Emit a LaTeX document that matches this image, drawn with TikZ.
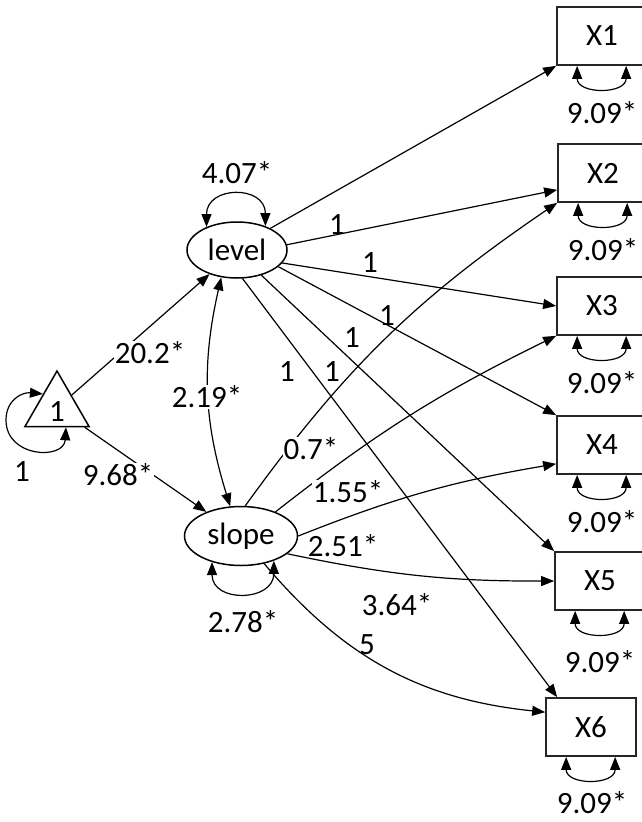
\documentclass[tikz,border=0pt]{standalone}
\usepackage{fontspec}
\setmainfont{Carlito}
\usetikzlibrary{arrows.meta,shapes.geometric}
\begin{document}
\begin{tikzpicture}[x=1pt,y=-1pt,
  every node/.style={font=\fontsize{31}{37}\selectfont},
  lat/.style={draw,ellipse,line width=1.5pt,inner sep=0pt,fill=white},
  obs/.style={draw=black!85,rectangle,line width=1.7pt,minimum width=90pt,minimum height=58pt,inner sep=0pt,fill=white},
  arr/.style={line width=1.2pt,-{Triangle[length=13pt,width=10pt]}},
  cov/.style={line width=1.2pt,{Triangle[length=13pt,width=10pt]}-{Triangle[length=13pt,width=10pt]}},
  lbl/.style={fill=white,inner sep=1pt}]
\useasboundingbox (0,0) rectangle (642,822);

% nodes
\node[draw,regular polygon,regular polygon sides=3,minimum size=74pt,inner sep=0pt,line width=1.5pt] (tri) at (57,408) {};
\node (trilbl) at (57,412) {1};
\node[lat,minimum width=100pt,minimum height=56pt] (lev) at (237,250) {level};
\node[lat,minimum width=113pt,minimum height=59pt] (slo) at (241,536) {slope};
\node[obs] (X1) at (602,36) {X1};
\node[obs] (X2) at (603,173) {X2};
\node[obs] (X3) at (602,306) {X3};
\node[obs] (X4) at (602,445) {X4};
\node[obs] (X5) at (600,581) {X5};
\node[obs] (X6) at (591,727) {X6};

% triangle self loop
\draw[cov] (tri.-65) .. controls (64,460) and (6,458) .. (6,420) .. controls (6,400) and (22,392) .. (tri.135);

% intercept paths
\draw[arr] (tri) -- (lev);
\draw[arr] (tri) -- (slo);

% covariance level-slope
\draw[cov] (lev.-120) to[bend right=15] (slo.110);

% self loops of latents
\draw[cov] (lev.143) to[out=90,in=90,looseness=1.8] (lev.40);
\draw[cov] (slo.222) to[out=-90,in=-90,looseness=1.7] (slo.-37);

% level loadings
\draw[arr] (lev.33) -- (X1.south west);
\draw[arr] (lev.6) -- ([yshift=13pt]X2.south west);
\draw[arr] (lev.-16) -- (X3.west);
\draw[arr] (lev.-22) -- (X4.north west);
\draw[arr] (lev.-46) -- (X5.north west);
\draw[arr] (lev.-79) -- ([xshift=12pt]X6.north west);

% slope loadings
\draw[arr] (slo.82) to[bend left=10] (X2.south west);
\draw[arr] (slo.35) to[bend left=6] (X3.south west);
\draw[arr] (slo.0) to[bend left=6] ([yshift=11pt]X4.south west);
\draw[arr] (slo.-21) to[bend right=6] (X5.west);
\draw[arr] (slo.-50) to[bend right=22] ([yshift=-15pt]X6.north west);

% residual loops
\foreach \b in {X1,X2,X3,X4,X5,X6}{
  \draw[cov] ([xshift=21pt]\b.south west) to[out=-90,in=-90,looseness=1.5] ([xshift=70pt]\b.south west);
}

% labels
\node (l1) at (22,472) {1};
\node[lbl] (l2) at (150,353) {20.2*};
\node[lbl] (l3) at (118,475) {9.68*};
\node[lbl] (l4) at (207,397) {2.19*};
\node (l5) at (237,173) {4.07*};
\node (l6) at (243,622) {2.78*};
\node (m1) at (337,225) {1};
\node (m2) at (370,263) {1};
\node (m3) at (387,316) {1};
\node (m4) at (352,338) {1};
\node (m5) at (287,372) {1};
\node (m6) at (332,372) {1};
\node[lbl] (s2) at (311,449) {0.7*};
\node[lbl] (s3) at (348,492) {1.55*};
\node (s4) at (343,546) {2.51*};
\node (s5) at (397,605) {3.64*};
\node (s6) at (367,645) {5};
\node (v1) at (602,113) {9.09*};
\node (v2) at (603,250) {9.09*};
\node (v3) at (602,383) {9.09*};
\node (v4) at (602,522) {9.09*};
\node (v5) at (600,662) {9.09*};
\node (v6) at (592,803) {9.09*};
\end{tikzpicture}
\end{document}
